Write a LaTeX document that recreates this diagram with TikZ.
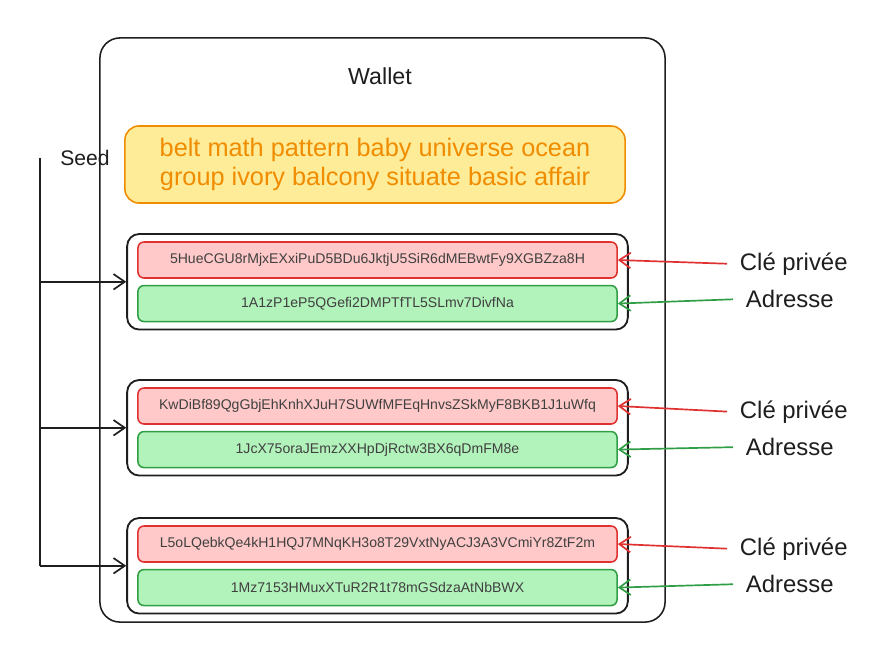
\documentclass[tikz,border=0pt]{standalone}
\usepackage{fontspec}
\setmainfont{Liberation Sans}
\usepackage{tikz}
\usetikzlibrary{arrows.meta,positioning,fit}
\definecolor{inkblack}{RGB}{30,30,30}
\definecolor{seedfill}{RGB}{255,236,153}
\definecolor{seedline}{RGB}{240,140,0}
\definecolor{keyred}{RGB}{224,49,49}
\definecolor{keyredfill}{RGB}{255,201,201}
\definecolor{keygreen}{RGB}{47,158,68}
\definecolor{keygreenfill}{RGB}{178,242,187}

\begin{document}
\begin{tikzpicture}[x=0.025cm, y=-0.025cm,
  wallet/.style={draw=inkblack, line width=1.1pt, rounded corners=0.5cm, minimum width=14.125cm, minimum height=14.6cm},
  seedbox/.style={draw=seedline, fill=seedfill, line width=1.1pt, rounded corners=0.35cm, align=center, text=seedline, font=\fontsize{18}{20}\selectfont, minimum width=12.5cm, minimum height=1.925cm},
  keybox/.style={draw=keyred, fill=keyredfill, line width=1.1pt, rounded corners=0.15cm, minimum width=11.975cm, minimum height=0.9cm, font=\fontsize{10}{12}\selectfont, text=inkblack!85},
  addrbox/.style={keybox, draw=keygreen, fill=keygreenfill},
  group/.style={draw=inkblack, line width=1.3pt, rounded corners=0.3cm, inner xsep=0.25cm, inner ysep=0.18cm},
  lbl/.style={anchor=west, font=\fontsize{17}{20}\selectfont, text=inkblack},
  arr/.style={-{Straight Barb[length=8pt,width=11pt]}, line width=1.2pt, inkblack},
  redarr/.style={arr, keyred, shorten <=0.2cm},
  greenarr/.style={arr, keygreen, shorten <=0.2cm}
]
\useasboundingbox (0,0) rectangle (888,666);

% wallet frame
\node[wallet] (wallet) at (382.5,330) {};
\node[font=\fontsize{16.5}{19}\selectfont, text=inkblack] (walletlabel) at (380,76) {Wallet};
\node[seedbox] (seed) at (375,164.5) {belt math pattern baby universe ocean\\group ivory balcony situate basic affair};

% key pairs
\node[keybox] (pk1) at (377.5,260) {5HueCGU8rMjxEXxiPuD5BDu6JktjU5SiR6dMEBwtFy9XGBZza8H};
\node[addrbox, below=0.15cm of pk1] (addr1) {1A1zP1eP5QGefi2DMPTfTL5SLmv7DivfNa};
\node[group, fit=(pk1)(addr1)] (grp1) {};

\node[keybox] (pk2) at (377.5,406) {KwDiBf89QgGbjEhKnhXJuH7SUWfMFEqHnvsZSkMyF8BKB1J1uWfq};
\node[addrbox, below=0.15cm of pk2] (addr2) {1JcX75oraJEmzXXHpDjRctw3BX6qDmFM8e};
\node[group, fit=(pk2)(addr2)] (grp2) {};

\node[keybox] (pk3) at (377.5,544) {L5oLQebkQe4kH1HQJ7MNqKH3o8T29VxtNyACJ3A3VCmiYr8ZtF2m};
\node[addrbox, below=0.15cm of pk3] (addr3) {1Mz7153HMuxXTuR2R1t78mGSdzaAtNbBWX};
\node[group, fit=(pk3)(addr3)] (grp3) {};

% seed derivation
\coordinate (seedtop) at (40,158);
\node[font=\fontsize{15}{18}\selectfont, text=inkblack] (seedlabel) at (85,158) {Seed};
\draw[line width=1.3pt, inkblack] (seedtop) -- (seedtop |- grp3.west);
\draw[arr] (seedtop |- grp1.west) -- (grp1.west);
\draw[arr] (seedtop |- grp2.west) -- (grp2.west);
\draw[arr] (seedtop |- grp3.west) -- (grp3.west);

% labels
\node[lbl] (pklabel1) at (735,264) {Clé privée};
\node[lbl] (addrlabel1) at (741,299) {Adresse};
\node[lbl] (pklabel2) at (735,412) {Clé privée};
\node[lbl] (addrlabel2) at (741,447) {Adresse};
\node[lbl] (pklabel3) at (735,549) {Clé privée};
\node[lbl] (addrlabel3) at (741,584) {Adresse};
\draw[redarr] (pklabel1.west) -- (pk1.east);
\draw[greenarr] (addrlabel1.west) -- (addr1.east);
\draw[redarr] (pklabel2.west) -- (pk2.east);
\draw[greenarr] (addrlabel2.west) -- (addr2.east);
\draw[redarr] (pklabel3.west) -- (pk3.east);
\draw[greenarr] (addrlabel3.west) -- (addr3.east);
\end{tikzpicture}
\end{document}
